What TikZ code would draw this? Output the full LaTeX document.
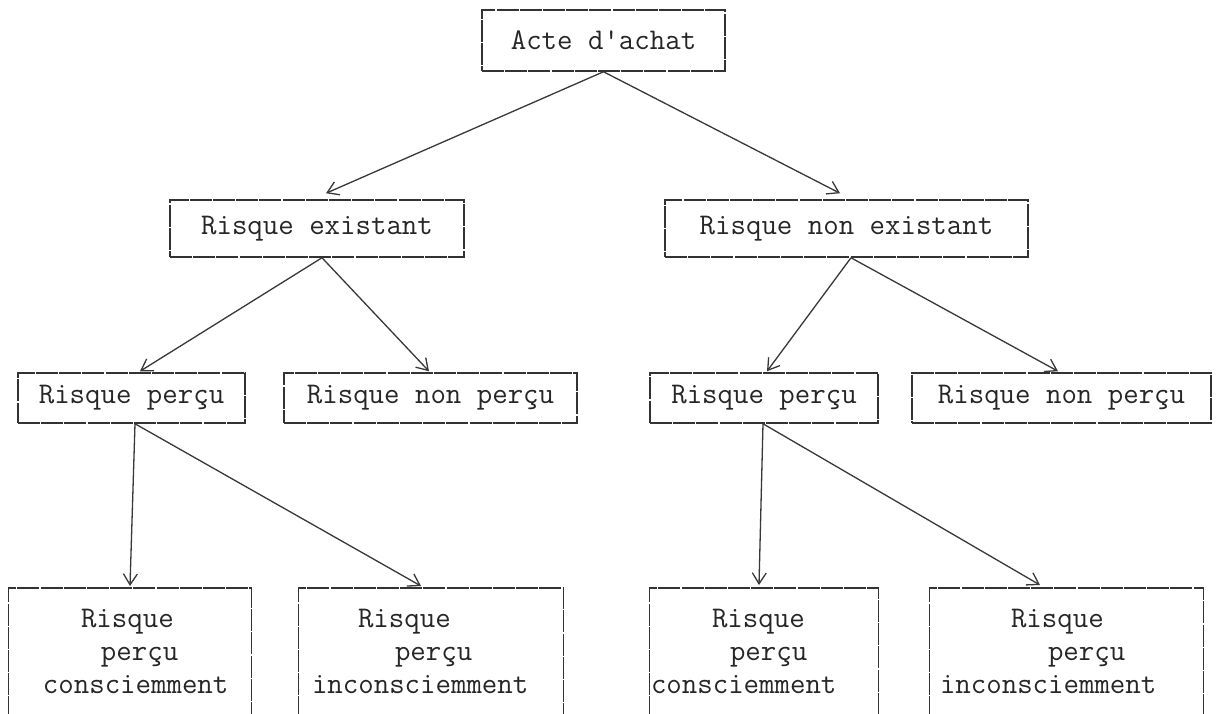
\documentclass[tikz,border=0pt]{standalone}
\usepackage{fontspec}
\usetikzlibrary{arrows.meta,calc}
\begin{document}
\begin{tikzpicture}[x=0.5pt,y=-0.5pt,
  tw/.style={font=\ttfamily\fontsize{15}{16.5}\selectfont\addfontfeatures{LetterSpace=5}, text=black!85},
  edge/.style={draw=black!80, line width=0.75pt, dash pattern=on 11pt off 0.6pt},
  box/.style={tw, edge, rectangle, inner sep=0pt},
  openbox/.style={tw, inner xsep=0pt, inner ysep=10.5pt, anchor=north, align=left},
  arr/.style={draw=black!78, line width=0.65pt, -{Straight Barb[length=5.5pt,width=7pt]}}
]
\useasboundingbox (0,0) rectangle (1216,713);
\clip (0,0) rectangle (1216,713);
\fill[white] (0,0) rectangle (1216,713);

% level 1
\node[box, minimum width=121.5pt, minimum height=30.5pt] (top) at (603.5,40.5) {Acte d'achat};
% level 2
\node[box, minimum width=147pt, minimum height=28.5pt] (re) at (317,228.5) {Risque existant};
\node[box, minimum width=181.5pt, minimum height=28.5pt] (rne) at (846.5,228.5) {Risque non existant};
% level 3
\node[box, minimum width=113.5pt, minimum height=25pt] (rpl) at (131.5,398) {Risque perçu};
\node[box, minimum width=146.5pt, minimum height=25pt] (rnpl) at (430.5,398) {Risque non perçu};
\node[box, minimum width=114pt, minimum height=25pt] (rpr) at (764,398) {Risque perçu};
\node[box, minimum width=149.5pt, minimum height=25pt] (rnpr) at (1061.5,398) {Risque non perçu};
% level 4 (open at the bottom)
\node[openbox, text width=121pt] (b1) at (130,588)
  {\hspace*{36pt}Risque\\\hspace*{46pt}perçu\\\hspace*{17pt}consciemment};
\node[openbox, text width=132pt] (b2) at (431,588)
  {\hspace*{29.5pt}Risque\\\hspace*{48pt}perçu\\\hspace*{6.5pt}inconsciemment};
\node[openbox, text width=114pt] (b3) at (764,588)
  {\hspace*{31pt}Risque\\\hspace*{40pt}perçu\\\hspace*{0.5pt}consciemment};
\node[openbox, text width=136.5pt] (b4) at (1066.5,588)
  {\hspace*{40.5pt}Risque\\\hspace*{59pt}perçu\\\hspace*{5pt}inconsciemment};
\foreach \b in {b1,b2,b3,b4}{
  \draw[edge] (\b.north west) ++(0,200) -- (\b.north west) -- (\b.north east) -- ++(0,200);
}

% connectors
\draw[arr] (top.south) -- ($(re.north)+(9,-6)$);
\draw[arr] (top.south) -- ($(rne.north)+(-6.5,-6)$);
\draw[arr] ($(re.south)+(5,0)$) -- ($(rpl.north)+(8.5,-1)$);
\draw[arr] ($(re.south)+(5,0)$) -- ($(rnpl.north)+(-1.5,-1)$);
\draw[arr] ($(rne.south)+(4.5,0)$) -- ($(rpr.north)+(3,-1)$);
\draw[arr] ($(rne.south)+(4.5,0)$) -- ($(rnpr.north)+(-3.5,-1)$);
\draw[arr] ($(rpl.south)+(3.5,0)$) -- ($(b1.north)+(0,-2)$);
\draw[arr] ($(rpl.south)+(3.5,0)$) -- ($(b2.north)+(-10,-2)$);
\draw[arr] ($(rpr.south)+(-1,0)$) -- ($(b3.north)+(-5,-3)$);
\draw[arr] ($(rpr.south)+(-1,0)$) -- ($(b4.north)+(-26.5,-3)$);
\end{tikzpicture}
\end{document}
